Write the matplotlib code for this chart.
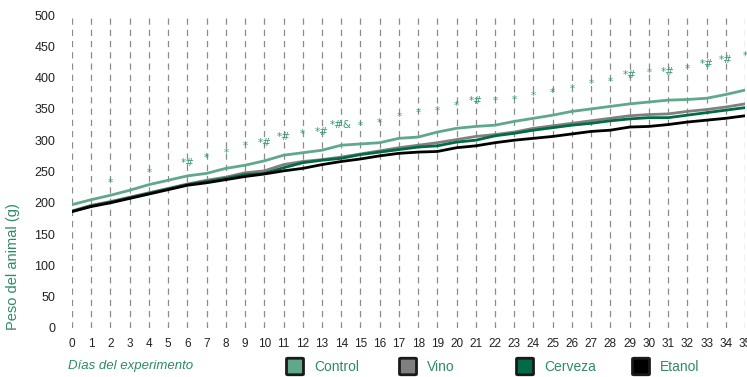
import matplotlib
matplotlib.use("Agg")
import matplotlib.pyplot as plt
from matplotlib.patches import FancyBboxPatch

# Body weight (g) per experimental day for each group
days = list(range(36))
control = [197, 205, 212, 220, 229, 236, 243, 247, 255, 260, 267, 276, 280, 284, 292, 294,
           296, 303, 305, 313, 319, 322, 324, 330, 335, 340, 346, 350, 354, 358, 361, 364,
           365, 367, 373, 380]
vino = [187, 196, 202, 209, 216, 223, 230, 236, 241, 248, 251, 261, 266, 269, 273, 278,
        283, 288, 292, 296, 301, 306, 309, 313, 319, 323, 327, 331, 335, 339, 341, 342,
        346, 349, 353, 358]
cerveza = [186, 195, 201, 208, 215, 222, 229, 234, 239, 245, 247, 256, 264, 268, 271, 277,
           281, 285, 289, 291, 297, 300, 307, 311, 316, 320, 324, 327, 331, 334, 336, 336,
           340, 344, 348, 352]
etanol = [186, 194, 200, 207, 214, 221, 228, 232, 237, 242, 246, 251, 255, 261, 266, 270,
          275, 279, 281, 282, 288, 291, 296, 300, 303, 306, 310, 314, 316, 321, 322, 325,
          329, 332, 335, 339]

# Significance marks drawn above the curves
mark_days = [2, 4, 6, 7, 8, 9, 10, 11, 12, 13, 14, 15, 16, 17, 18, 19, 20, 21, 22, 23,
             24, 25, 26, 27, 28, 29, 30, 31, 32, 33, 34, 35]
mark_text = ["*", "*", "*#", "*", "*", "*", "*#", "*#", "*", "*#", "*#&", "*", "*", "*", "*",
             "*", "*", "*#", "*", "*", "*", "*", "*", "*", "*", "*#", "*", "*#", "*", "*#",
             "*#", "*"]
mark_y = [232, 248, 264, 271, 280, 291, 295, 305, 310, 313, 324, 323, 328, 337, 343, 347,
          355, 363, 362, 365, 370, 375, 382, 390, 393, 404, 407, 409, 413, 421, 428, 434]

groups = ["Control", "Vino", "Cerveza", "Etanol"]
colors = ["#5fa88a", "#808080", "#006b45", "#000000"]
green_text = "#2e8b63"
sans = ["Liberation Sans", "DejaVu Sans"]

fig = plt.figure(figsize=(7.47, 3.77), dpi=100)
W, H = 747, 377
ax = fig.add_axes([72 / W, 1 - 328 / H, 673 / W, 313 / H])

series = [control, vino, cerveza, etanol]
for vals, c in zip(series, colors):
    ax.plot(days, vals, color=c, lw=2.0, solid_joinstyle="round")

for d, t, y in zip(mark_days, mark_text, mark_y):
    ax.text(d, y, t, ha="center", va="center", fontsize=7.5, color="#3a9a70",
            family="DejaVu Sans")

ax.set_xlim(0, 35)
ax.set_ylim(0, 500)
ax.set_xticks(days)
ax.set_yticks(range(0, 501, 50))
for x in days:
    ax.axvline(x, color="#8c8c8c", lw=0.9, ls=(0, (5, 4)), zorder=0)
for s in ax.spines.values():
    s.set_visible(False)
ax.tick_params(length=0)
ax.tick_params(axis="x", pad=7)
ax.tick_params(axis="y", pad=12)
for lab in ax.get_xticklabels():
    lab.set_family(sans)
    lab.set_fontsize(8.5)
    lab.set_color("#222222")
for lab in ax.get_yticklabels():
    lab.set_family(sans)
    lab.set_fontsize(9)
    lab.set_color("#222222")

# Axis titles sit low, aligned with the bottom of the plot
fig.text(13 / W, 1 - 330 / H, "Peso del animal (g)", rotation=90, color=green_text,
         fontsize=10.5, family=sans, ha="center", va="bottom")
fig.text(68 / W, 1 - 366 / H, "Días del experimento", color=green_text,
         fontsize=9.5, style="italic", family=sans, va="center")

# Legend: fixed-width entries along the bottom row
legend_x = [288, 401, 518, 634]
for g, c, lx in zip(groups, colors, legend_x):
    box = FancyBboxPatch((lx / W, 1 - 374 / H), 14 / W, 15 / H,
                         boxstyle="round,pad=0.002", transform=fig.transFigure,
                         facecolor=c, edgecolor="#1a1a1a", linewidth=2)
    fig.patches.append(box)
    fig.text((lx + 26) / W, 1 - 367 / H, g, color=green_text, fontsize=10,
             family=sans, va="center")

fig.savefig("out.png", dpi=100)
